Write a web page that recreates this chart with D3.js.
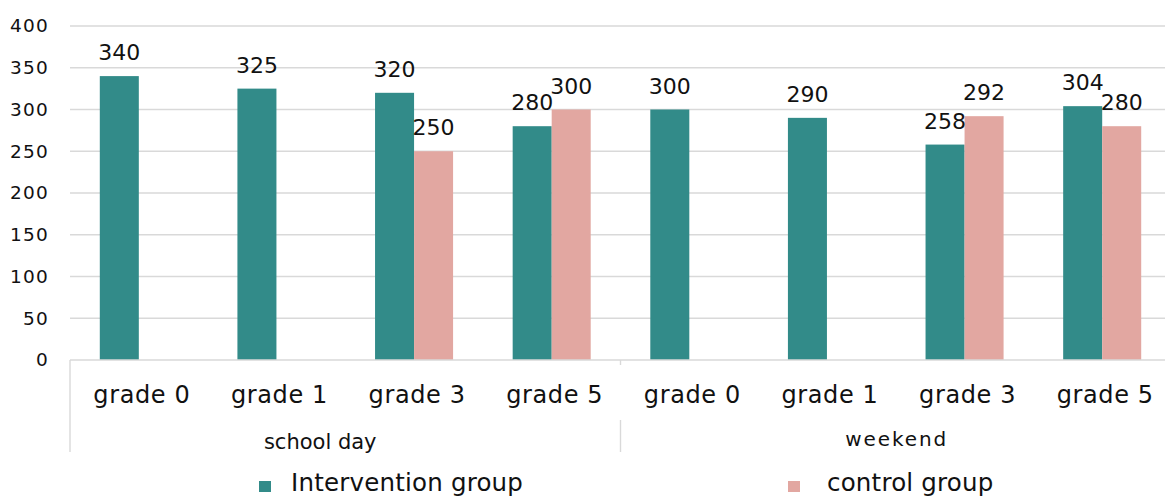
<!DOCTYPE html>
<html>
<head>
<meta charset="utf-8">
<script src="https://cdn.jsdelivr.net/npm/d3@7"></script>
<style>
  html, body { margin: 0; padding: 0; background: #fff; }
  svg { display: block; font-family: "DejaVu Sans", sans-serif; }
</style>
</head>
<body>
<svg id="chart" width="1165" height="497"></svg>
<script>
// Day types (outer category level) and grades (inner level)
const dayTypes = ["school day", "weekend"];
const grades = ["grade 0", "grade 1", "grade 3", "grade 5"];
const seriesNames = ["Intervention group", "control group"];
const seriesColors = ["#328b89", "#e2a7a1"];

// Values per series, ordered school day grades then weekend grades (null = no bar)
const interventionValues = [340, 325, 320, 280, 300, 290, 258, 304];
const controlValues = [null, null, 250, 300, null, null, 292, 280];

const yTicks = [0, 50, 100, 150, 200, 250, 300, 350, 400];

const categories = [];
dayTypes.forEach(d => grades.forEach(g => categories.push({ day: d, grade: g, key: d + "|" + g })));
const seriesValues = [interventionValues, controlValues];

const svg = d3.select("#chart");
const plot = { left: 70, right: 1171, top: 26, bottom: 360 };

const x = d3.scaleBand()
  .domain(categories.map(c => c.key))
  .range([plot.left, plot.right])
  .padding(0);

const groupWidth = x.bandwidth() * 0.567;
const xSub = d3.scaleBand()
  .domain(seriesNames)
  .range([(x.bandwidth() - groupWidth) / 2, (x.bandwidth() + groupWidth) / 2])
  .padding(0);

const y = d3.scaleLinear().domain([0, 400]).range([plot.bottom, plot.top]);

// Horizontal gridlines
svg.append("g")
  .selectAll("line")
  .data(yTicks.filter(t => t > 0))
  .join("line")
  .attr("x1", plot.left).attr("x2", plot.right)
  .attr("y1", d => y(d)).attr("y2", d => y(d))
  .attr("stroke", "#d9d9d9").attr("stroke-width", 1.4);

// Y axis labels
const yAxis = d3.axisLeft(y).tickValues(yTicks).tickSize(0).tickPadding(21);
const yG = svg.append("g").attr("transform", `translate(${plot.left},0)`).call(yAxis);
yG.select(".domain").remove();
yG.selectAll("text")
  .attr("font-family", "DejaVu Sans, sans-serif")
  .attr("font-size", 18.5)
  .attr("letter-spacing", 1.2)
  .attr("fill", "#111");

// Bars
const rows = [];
categories.forEach((c, i) => {
  seriesNames.forEach((s, j) => {
    const v = seriesValues[j][i];
    if (v != null) rows.push({ cat: c.key, series: s, color: seriesColors[j], value: v });
  });
});

svg.append("g")
  .selectAll("rect")
  .data(rows)
  .join("rect")
  .attr("x", d => x(d.cat) + xSub(d.series))
  .attr("width", xSub.bandwidth())
  .attr("y", d => y(d.value))
  .attr("height", d => y(0) - y(d.value))
  .attr("fill", d => d.color);

// Value labels
svg.append("g")
  .selectAll("text")
  .data(rows)
  .join("text")
  .attr("x", d => x(d.cat) + xSub(d.series) + xSub.bandwidth() / 2)
  .attr("y", d => y(d.value) - 16)
  .attr("text-anchor", "middle")
  .attr("font-size", 22)
  .attr("fill", "#111")
  .text(d => d.value);

// Category axis line and separators
const axisG = svg.append("g").attr("stroke", "#d9d9d9").attr("stroke-width", 1.4);
axisG.append("line")
  .attr("x1", plot.left).attr("x2", plot.right)
  .attr("y1", plot.bottom).attr("y2", plot.bottom);
axisG.append("line")
  .attr("x1", plot.left).attr("x2", plot.left)
  .attr("y1", plot.bottom).attr("y2", 452);
const sepX = x(categories[grades.length].key);
axisG.append("line")
  .attr("x1", sepX).attr("x2", sepX)
  .attr("y1", plot.bottom).attr("y2", plot.bottom + 5);
axisG.append("line")
  .attr("x1", sepX).attr("x2", sepX)
  .attr("y1", 420).attr("y2", 452);

// Grade labels
svg.append("g")
  .selectAll("text")
  .data(categories)
  .join("text")
  .attr("x", d => x(d.key) + x.bandwidth() / 2 + 3)
  .attr("y", 403)
  .attr("text-anchor", "middle")
  .attr("font-size", 24)
  .attr("letter-spacing", 0.6)
  .attr("fill", "#111")
  .text(d => d.grade);

// Day type labels
const dayLabel = svg.append("g");
dayLabel.append("text")
  .attr("x", (x(categories[0].key) + sepX) / 2 - 25)
  .attr("y", 449)
  .attr("text-anchor", "middle")
  .attr("font-size", 21)
  .attr("fill", "#111")
  .text(dayTypes[0]);
dayLabel.append("text")
  .attr("x", (sepX + plot.right) / 2 + 1)
  .attr("y", 446)
  .attr("text-anchor", "middle")
  .attr("font-size", 20)
  .attr("letter-spacing", 1.9)
  .attr("fill", "#111")
  .text(dayTypes[1]);

// Legend
const legendX = [259, 788];
const legend = svg.append("g")
  .selectAll("g")
  .data(seriesNames)
  .join("g")
  .attr("transform", (d, i) => `translate(${legendX[i]},0)`);
legend.append("rect")
  .attr("x", 0).attr("y", 481)
  .attr("width", 12).attr("height", 11)
  .attr("fill", (d, i) => seriesColors[i]);
legend.append("text")
  .attr("x", (d, i) => i === 0 ? 32 : 39)
  .attr("y", 491)
  .attr("font-size", 24.5)
  .attr("letter-spacing", 0.2)
  .attr("fill", "#111")
  .text(d => d);
</script>
</body>
</html>
